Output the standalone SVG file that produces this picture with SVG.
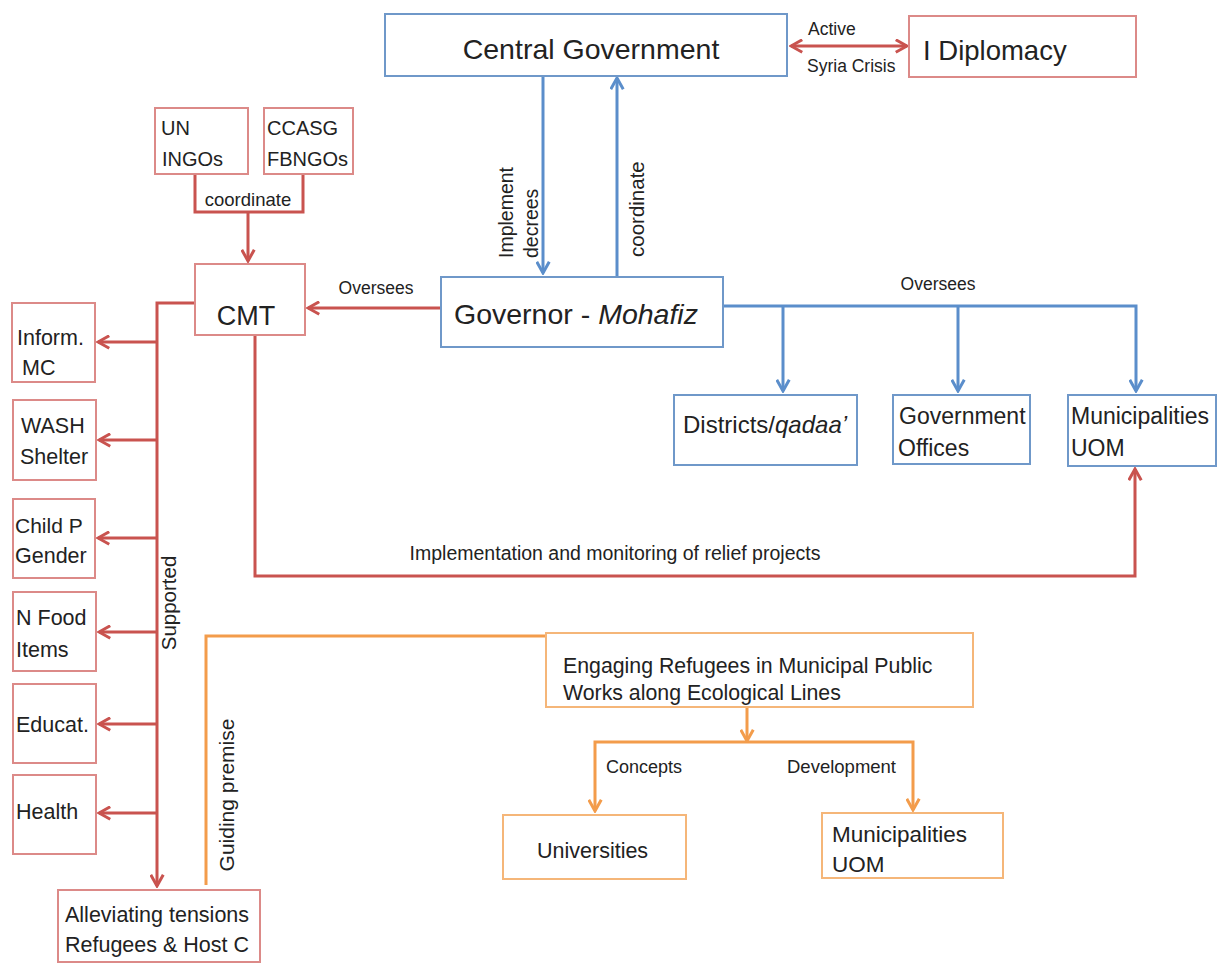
<svg xmlns="http://www.w3.org/2000/svg" width="1218" height="965" viewBox="0 0 1218 965">
<style>
text{font-family:"Liberation Sans",Arial,sans-serif;fill:#222}
.bx{fill:#fff;stroke-width:2}
.b{stroke:#6f98c9}
.r{stroke:#dc8a88}
.o{stroke:#f5b679}
.ln{fill:none;stroke-width:3;stroke-linejoin:miter}
.lb{stroke:#5b8ecb}
.lr{stroke:#c9534f}
.lo{stroke:#f39c4b}
</style>
<defs>
<marker id="aB" viewBox="0 0 12 12" refX="10.5" refY="6" markerWidth="15" markerHeight="15" markerUnits="userSpaceOnUse" orient="auto-start-reverse"><path d="M1.5,1 L10.5,6 L1.5,11" fill="none" stroke="#5b8ecb" stroke-width="2.4"/></marker>
<marker id="aR" viewBox="0 0 12 12" refX="10.5" refY="6" markerWidth="15" markerHeight="15" markerUnits="userSpaceOnUse" orient="auto-start-reverse"><path d="M1.5,1 L10.5,6 L1.5,11" fill="none" stroke="#c9534f" stroke-width="2.4"/></marker>
<marker id="aO" viewBox="0 0 12 12" refX="10.5" refY="6" markerWidth="15" markerHeight="15" markerUnits="userSpaceOnUse" orient="auto-start-reverse"><path d="M1.5,1 L10.5,6 L1.5,11" fill="none" stroke="#f39c4b" stroke-width="2.4"/></marker>
</defs>

<g id="connectors">
<path class="ln lb" d="M543,76 L543,273" marker-end="url(#aB)"/>
<path class="ln lb" d="M617,277 L617,78" marker-end="url(#aB)"/>
<path class="ln lb" d="M723,306 L1136,306 L1136,391" marker-end="url(#aB)"/>
<path class="ln lb" d="M783,306 L783,391" marker-end="url(#aB)"/>
<path class="ln lb" d="M958,306 L958,391" marker-end="url(#aB)"/>
<path class="ln lr" d="M791,46 L907,46" marker-start="url(#aR)" marker-end="url(#aR)"/>
<path class="ln lr" d="M195,174 L195,212 L303,212 L303,174"/>
<path class="ln lr" d="M248,212 L248,261" marker-end="url(#aR)"/>
<path class="ln lr" d="M441,308 L308,308" marker-end="url(#aR)"/>
<path class="ln lr" d="M195,303 L157,303 L157,886" marker-end="url(#aR)"/>
<path class="ln lr" d="M157,342 L98,342" marker-end="url(#aR)"/>
<path class="ln lr" d="M157,440 L99,440" marker-end="url(#aR)"/>
<path class="ln lr" d="M157,538 L98,538" marker-end="url(#aR)"/>
<path class="ln lr" d="M157,632 L99,632" marker-end="url(#aR)"/>
<path class="ln lr" d="M157,724 L99,724" marker-end="url(#aR)"/>
<path class="ln lr" d="M157,813 L99,813" marker-end="url(#aR)"/>
<path class="ln lr" d="M255,335 L255,576 L1135,576 L1135,469" marker-end="url(#aR)"/>
<path class="ln lo" d="M206,885 L206,636 L545,636"/>
<path class="ln lo" d="M747,707 L747,741" marker-end="url(#aO)"/>
<path class="ln lo" d="M595,811 L595,742 L913,742 L913,810" marker-start="url(#aO)" marker-end="url(#aO)"/>
<text x="808" y="35" font-size="17.5">Active</text>
<text x="807" y="72" font-size="17.5">Syria Crisis</text>
<text x="248" y="206" font-size="18.5" text-anchor="middle">coordinate</text>
<text x="376" y="294" font-size="17.5" text-anchor="middle">Oversees</text>
<text x="938" y="290" font-size="17.5" text-anchor="middle">Oversees</text>
<text x="615" y="560" font-size="19.5" text-anchor="middle">Implementation and monitoring of relief projects</text>
<text transform="translate(513,258) rotate(-90)" font-size="19.5"><tspan x="0" y="0">Implement</tspan><tspan x="0" y="25">decrees</tspan></text>
<text transform="translate(644,257) rotate(-90)" font-size="20.5">coordinate</text>
<text transform="translate(176,603) rotate(-90)" font-size="20.5" text-anchor="middle">Supported</text>
<text transform="translate(234,795) rotate(-90)" font-size="21" text-anchor="middle">Guiding premise</text>
<text x="606" y="773" font-size="18">Concepts</text>
<text x="787" y="773" font-size="18.5">Development</text>
</g>

<g id="central-government"><rect class="bx b" x="385" y="14" width="402" height="62"/><text x="591" y="59" font-size="28.5" text-anchor="middle">Central Government</text></g>
<g id="i-diplomacy"><rect class="bx r" x="909" y="16" width="227" height="61"/><text x="923" y="60" font-size="27.5">I Diplomacy</text></g>
<g id="un-ingos"><rect class="bx r" x="155" y="108" width="93" height="66"/><text x="161" y="135" font-size="20">UN</text><text x="162" y="166" font-size="20">INGOs</text></g>
<g id="ccasg"><rect class="bx r" x="264" y="108" width="89" height="66"/><text x="267" y="135" font-size="20">CCASG</text><text x="267" y="166" font-size="20">FBNGOs</text></g>
<g id="cmt"><rect class="bx r" x="195" y="264" width="110" height="71"/><text x="246" y="325" font-size="27" text-anchor="middle">CMT</text></g>
<g id="governor"><rect class="bx b" x="441" y="277" width="282" height="70"/><text x="454" y="324" font-size="28.5">Governor - <tspan font-style="italic">Mohafiz</tspan></text></g>
<g id="districts"><rect class="bx b" x="674" y="395" width="183" height="70"/><text x="683" y="433" font-size="24">Districts/<tspan font-style="italic">qadaa’</tspan></text></g>
<g id="government-offices"><rect class="bx b" x="893" y="395" width="137" height="69"/><text x="899" y="424" font-size="23">Government</text><text x="898" y="456" font-size="23">Offices</text></g>
<g id="municipalities-1"><rect class="bx b" x="1068" y="395" width="148" height="71"/><text x="1071" y="424" font-size="23">Municipalities</text><text x="1071" y="456" font-size="23">UOM</text></g>
<g id="inform-mc"><rect class="bx r" x="12" y="303" width="83" height="79"/><text x="17" y="345" font-size="21.5">Inform.</text><text x="22" y="375" font-size="21.5">MC</text></g>
<g id="wash-shelter"><rect class="bx r" x="13" y="400" width="83" height="80"/><text x="21" y="433" font-size="21.5">WASH</text><text x="20" y="464" font-size="21.5">Shelter</text></g>
<g id="child-gender"><rect class="bx r" x="13" y="499" width="82" height="79"/><text x="15" y="533" font-size="21">Child P</text><text x="15" y="563" font-size="21.5">Gender</text></g>
<g id="n-food-items"><rect class="bx r" x="13" y="592" width="83" height="79"/><text x="16" y="625" font-size="21.5">N Food</text><text x="16" y="657" font-size="21.5">Items</text></g>
<g id="educat"><rect class="bx r" x="13" y="684" width="83" height="79"/><text x="16" y="732" font-size="21.5">Educat.</text></g>
<g id="health"><rect class="bx r" x="13" y="775" width="83" height="79"/><text x="16" y="819" font-size="21.5">Health</text></g>
<g id="alleviating"><rect class="bx r" x="58" y="890" width="202" height="72"/><text x="65" y="922" font-size="21.5">Alleviating tensions</text><text x="65" y="952" font-size="21.5">Refugees &amp; Host C</text></g>
<g id="engaging"><rect class="bx o" x="546" y="633" width="427" height="74"/><text x="563" y="673" font-size="21.3">Engaging Refugees in Municipal Public</text><text x="563" y="700" font-size="21.3">Works along Ecological Lines</text></g>
<g id="universities"><rect class="bx o" x="503" y="815" width="183" height="64"/><text x="537" y="858" font-size="21.5">Universities</text></g>
<g id="municipalities-2"><rect class="bx o" x="822" y="813" width="181" height="65"/><text x="832" y="842" font-size="22.5">Municipalities</text><text x="832" y="872" font-size="22.5">UOM</text></g>
</svg>
